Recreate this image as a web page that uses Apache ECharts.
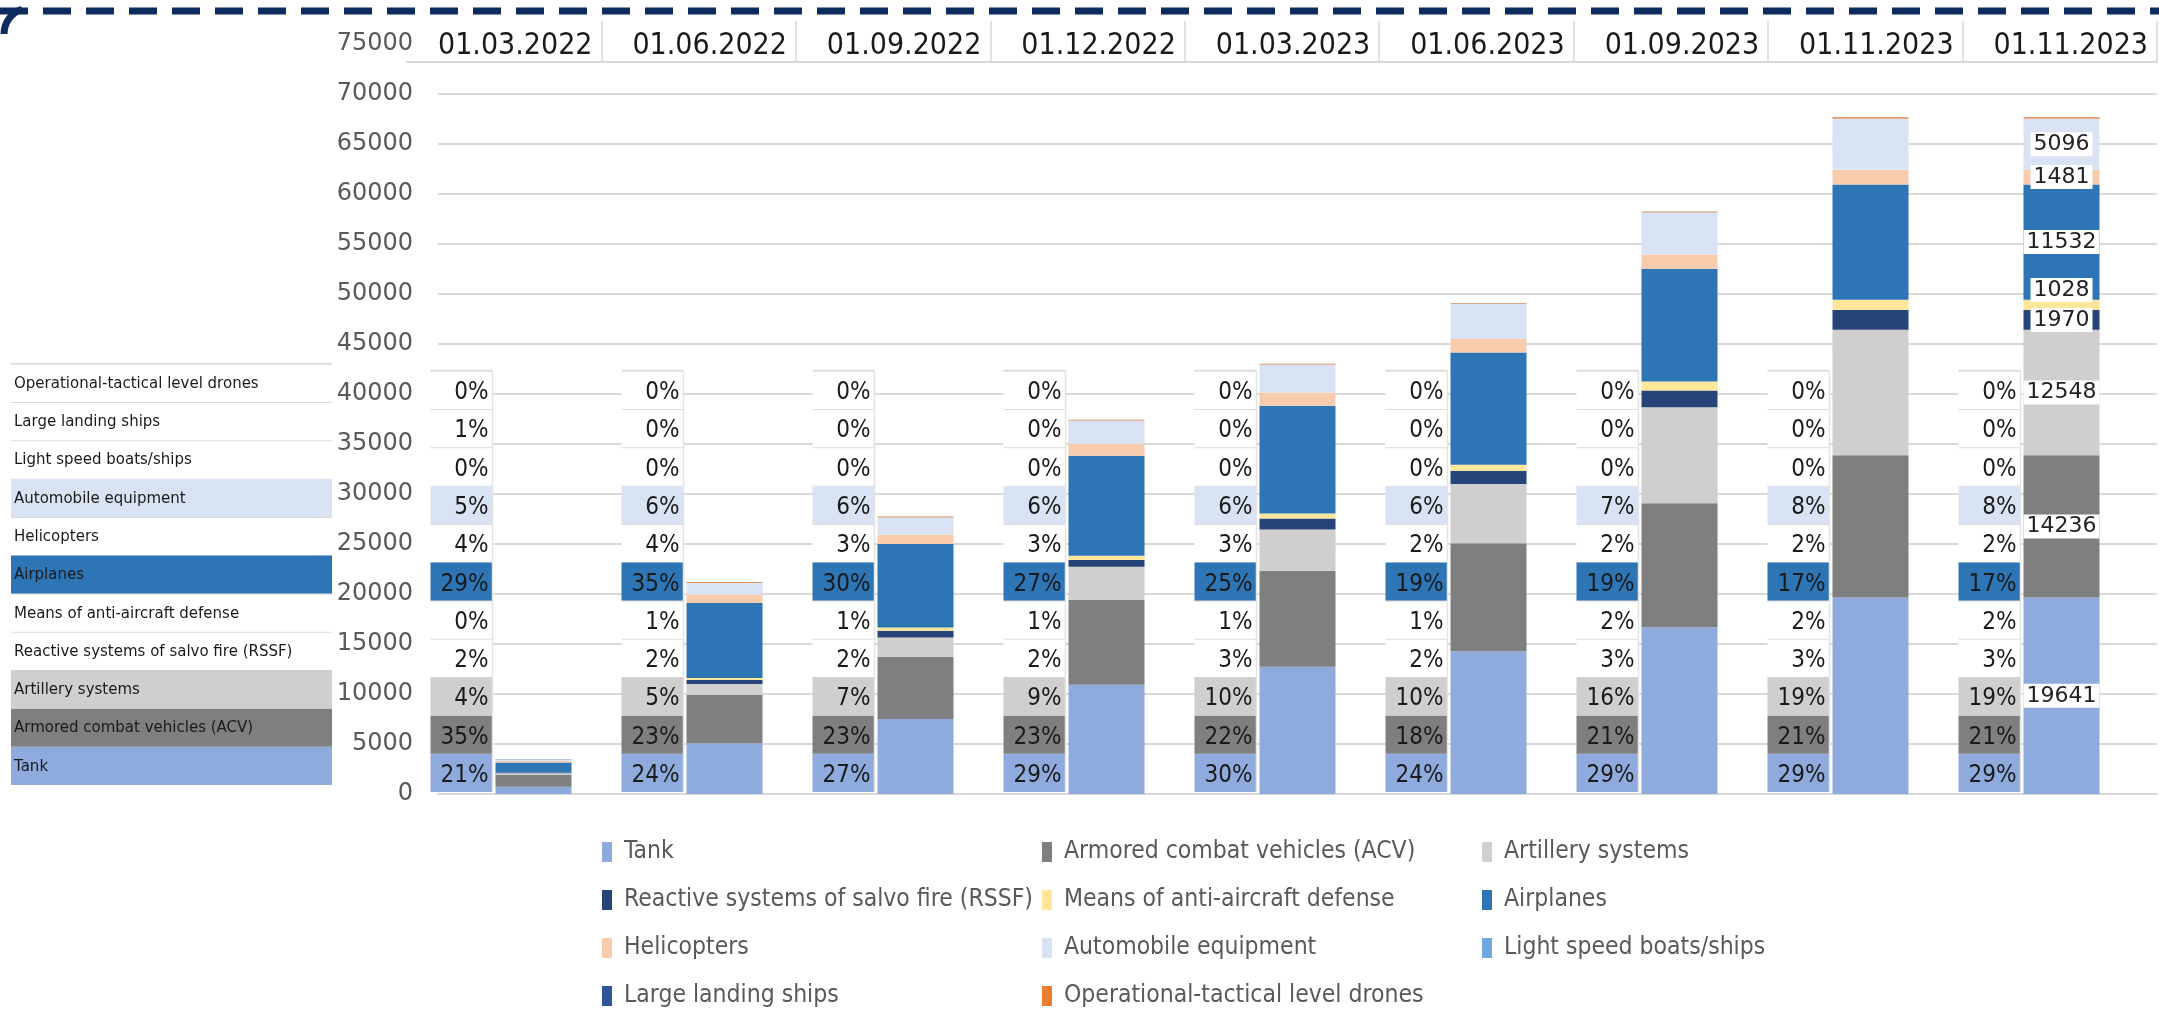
<!DOCTYPE html>
<html>
<head>
<meta charset="utf-8">
<script src="https://cdn.jsdelivr.net/npm/echarts@6/dist/echarts.min.js"></script>
<style>
html, body { margin: 0; padding: 0; background: #fff; }
#main { width: 2159px; height: 1010px; }
</style>
</head>
<body>
<div id="main"></div>
<script>
// dates on the header row
var dates = ['01.03.2022', '01.06.2022', '01.09.2022', '01.12.2022', '01.03.2023',
    '01.06.2023', '01.09.2023', '01.11.2023', '01.11.2023'];

// equipment types, bottom of the stack first
var names = ['Tank', 'Armored combat vehicles (ACV)', 'Artillery systems',
    'Reactive systems of salvo fire (RSSF)', 'Means of anti-aircraft defense', 'Airplanes',
    'Helicopters', 'Automobile equipment', 'Light speed boats/ships', 'Large landing ships',
    'Operational-tactical level drones'];
var colors = ['#8faadc', '#7f7f7f', '#d0cece', '#264478', '#ffe699', '#2e75b6',
    '#f8cbad', '#dae3f3', '#6fa8dc', '#2f5597', '#ed7d31'];

// bar values
var tank      = [725, 5070, 7500, 10930, 12730, 14270, 16680, 19641, 19641];
var acv       = [1210, 4830, 6230, 8470, 9600, 10800, 12400, 14236, 14236];
var artillery = [140, 1100, 1930, 3330, 4130, 5930, 9600, 12548, 12548];
var rssf      = [70, 400, 670, 670, 1100, 1330, 1670, 1970, 1970];
var antiAir   = [10, 200, 330, 430, 500, 600, 900, 1028, 1028];
var airplanes = [1000, 7500, 8330, 10000, 10770, 11230, 11270, 11532, 11532];
var helis     = [140, 830, 930, 1170, 1330, 1330, 1440, 1481, 1481];
var autos     = [170, 1170, 1730, 2330, 2770, 3500, 4190, 5096, 5096];
var boats     = [5, 20, 20, 20, 20, 20, 20, 20, 20];
var ships     = [35, 10, 10, 10, 10, 10, 10, 10, 10];
var drones    = [0, 60, 60, 60, 60, 60, 80, 110, 110];

// percentages in the small tables next to each bar
var pctTank      = [21, 24, 27, 29, 30, 24, 29, 29, 29];
var pctAcv       = [35, 23, 23, 23, 22, 18, 21, 21, 21];
var pctArtillery = [4, 5, 7, 9, 10, 10, 16, 19, 19];
var pctRssf      = [2, 2, 2, 2, 3, 2, 3, 3, 3];
var pctAntiAir   = [0, 1, 1, 1, 1, 1, 2, 2, 2];
var pctAirplanes = [29, 35, 30, 27, 25, 19, 19, 17, 17];
var pctHelis     = [4, 4, 3, 3, 3, 2, 2, 2, 2];
var pctAutos     = [5, 6, 6, 6, 6, 6, 7, 8, 8];
var pctBoats     = [0, 0, 0, 0, 0, 0, 0, 0, 0];
var pctShips     = [1, 0, 0, 0, 0, 0, 0, 0, 0];
var pctDrones    = [0, 0, 0, 0, 0, 0, 0, 0, 0];

var values = [tank, acv, artillery, rssf, antiAir, airplanes, helis, autos, boats, ships, drones];
var pcts = [pctTank, pctAcv, pctArtillery, pctRssf, pctAntiAir, pctAirplanes, pctHelis,
    pctAutos, pctBoats, pctShips, pctDrones];

var NARROW = "'Liberation Sans Narrow', 'DejaVu Sans Condensed', sans-serif";
var WIDE = "'DejaVu Sans', Verdana, sans-serif";
var ROW_H = 3830;     // table row height, in axis units
var ROW_BASE = 200;   // bottom of the small tables
var LEFT_BASE = 900;  // bottom of the name table
var filled = [0, 1, 2, 5, 7];

function rowFill(r) {
    return filled.indexOf(r) >= 0 ? colors[r] : '#ffffff';
}

// small percentage table left of every bar
function renderTable(params, api) {
    var i = api.value(0);
    var c = api.coord([i, 0]);
    var right = c[0] - 41, left = right - 62;
    var kids = [];
    var top = api.coord([i, ROW_BASE + 11 * ROW_H])[1];
    var bottom = api.coord([i, ROW_BASE])[1];
    for (var r = 0; r < 11; r++) {
        var yb = api.coord([i, ROW_BASE + r * ROW_H])[1];
        var yt = api.coord([i, ROW_BASE + (r + 1) * ROW_H])[1];
        var fill = rowFill(r);
        kids.push({type: 'rect', shape: {x: left, y: yt, width: right - left, height: yb - yt},
            style: {fill: fill}});
        if (fill === '#ffffff') {
            kids.push({type: 'line', shape: {x1: left, y1: yt, x2: right, y2: yt},
                style: {stroke: '#dcdcdc', lineWidth: 2}});
        }
        kids.push({type: 'text', style: {text: pcts[r][i] + '%', x: right - 4, y: (yt + yb) / 2 + 3,
            align: 'right', verticalAlign: 'middle', fontFamily: NARROW, fontSize: 24, fill: '#1a1a1a'}});
    }
    kids.push({type: 'line', shape: {x1: right, y1: top, x2: right, y2: bottom},
        style: {stroke: '#e4e4e4', lineWidth: 1.5}});
    return {type: 'group', children: kids};
}

// name table at the far left
function renderNames(params, api) {
    var gx = params.coordSys.x;
    var left = gx - 427, right = gx - 106;
    var kids = [];
    for (var r = 0; r < 11; r++) {
        var yb = api.coord([0, LEFT_BASE + r * ROW_H])[1];
        var yt = api.coord([0, LEFT_BASE + (r + 1) * ROW_H])[1];
        var fill = rowFill(r);
        kids.push({type: 'rect', shape: {x: left, y: yt, width: right - left, height: yb - yt},
            style: {fill: fill}});
        if (fill === '#ffffff') {
            kids.push({type: 'line', shape: {x1: left, y1: yt, x2: right, y2: yt},
                style: {stroke: '#dcdcdc', lineWidth: 2}});
        }
        kids.push({type: 'text', style: {text: names[r], x: left + 3, y: (yt + yb) / 2 + 1,
            align: 'left', verticalAlign: 'middle', fontFamily: WIDE, fontSize: 15, fill: '#1a1a1a'}});
    }
    return {type: 'group', children: kids};
}

var series = [];
for (var k = 0; k < names.length; k++) {
    var data = values[k].map(function (v, i) {
        return (i === 8 && k < 8) ? {value: v, label: {show: true}} : v;
    });
    series.push({
        name: names[k],
        type: 'bar',
        stack: 'total',
        barWidth: 76,
        data: data,
        itemStyle: {color: colors[k]},
        label: {
            show: false,
            position: 'inside',
            offset: k === 4 ? [0, -15] : [0, 0],
            fontFamily: WIDE,
            fontSize: 22,
            color: '#222',
            backgroundColor: '#fff',
            padding: [1, 3]
        },
        emphasis: {disabled: true}
    });
}
series.push({
    type: 'custom',
    renderItem: renderTable,
    data: dates.map(function (d, i) { return [i, 0]; }),
    encode: {x: 0, y: 1},
    z: 5,
    silent: true
});
series.push({
    type: 'custom',
    renderItem: renderNames,
    data: [[0, 0]],
    encode: {x: 0, y: 1},
    z: 5,
    silent: true
});
// header row
series.push({
    type: 'bar',
    xAxisIndex: 1,
    yAxisIndex: 1,
    data: [],
    silent: true
});

var myChart = echarts.init(document.getElementById('main'));
myChart.setOption({
    backgroundColor: '#fff',
    animation: false,
    grid: [
        {left: 438, right: 2, top: 44, bottom: 216},
        {left: 407, right: 2, top: 21, height: 41}
    ],
    xAxis: [{
        type: 'category',
        data: dates,
        gridIndex: 0,
        axisLine: {lineStyle: {color: '#d9d9d9', width: 2}},
        axisTick: {show: false},
        axisLabel: {show: false}
    }, {
        type: 'category',
        data: dates,
        gridIndex: 1,
        position: 'top',
        axisLine: {lineStyle: {color: '#d9d9d9', width: 2}},
        axisTick: {show: false},
        axisLabel: {
            interval: 0,
            inside: true,
            margin: 25,
            verticalAlign: 'middle',
            padding: [0, 0, 0, 22],
            fontFamily: NARROW,
            fontSize: 30,
            color: '#1a1a1a'
        },
        splitLine: {show: true, showMinLine: false, lineStyle: {color: '#d9d9d9', width: 1.5}}
    }],
    yAxis: [{
        type: 'value',
        gridIndex: 0,
        min: 0,
        max: 75000,
        interval: 5000,
        axisLine: {show: false},
        axisTick: {show: false},
        axisLabel: {
            margin: 25, fontFamily: WIDE, fontSize: 24, color: '#595959',
            formatter: function (v) { return String(v); }
        },
        splitLine: {showMaxLine: false, lineStyle: {color: '#d9d9d9', width: 2}}
    }, {
        type: 'value',
        gridIndex: 1,
        show: false
    }],
    legend: {
        left: 602,
        top: 832,
        width: 1400,
        padding: 0,
        itemGap: 8,
        icon: 'rect',
        itemWidth: 10,
        itemHeight: 20,
        selectedMode: false,
        data: names,
        textStyle: {
            fontFamily: NARROW, fontSize: 24.5, color: '#595959', lineHeight: 40,
            width: 410, padding: [0, 0, 0, 7]
        }
    },
    graphic: [{
        type: 'line',
        shape: {x1: 0, y1: 11, x2: 2159, y2: 11},
        style: {stroke: '#0d2b5e', lineWidth: 7, lineDash: [28, 15]}
    }, {
        type: 'arc',
        shape: {cx: 30, cy: 34, r: 26, startAngle: Math.PI * 1.0, endAngle: Math.PI * 1.4},
        style: {stroke: '#0d2b5e', lineWidth: 7, fill: null}
    }],
    series: series
});
</script>
</body>
</html>
